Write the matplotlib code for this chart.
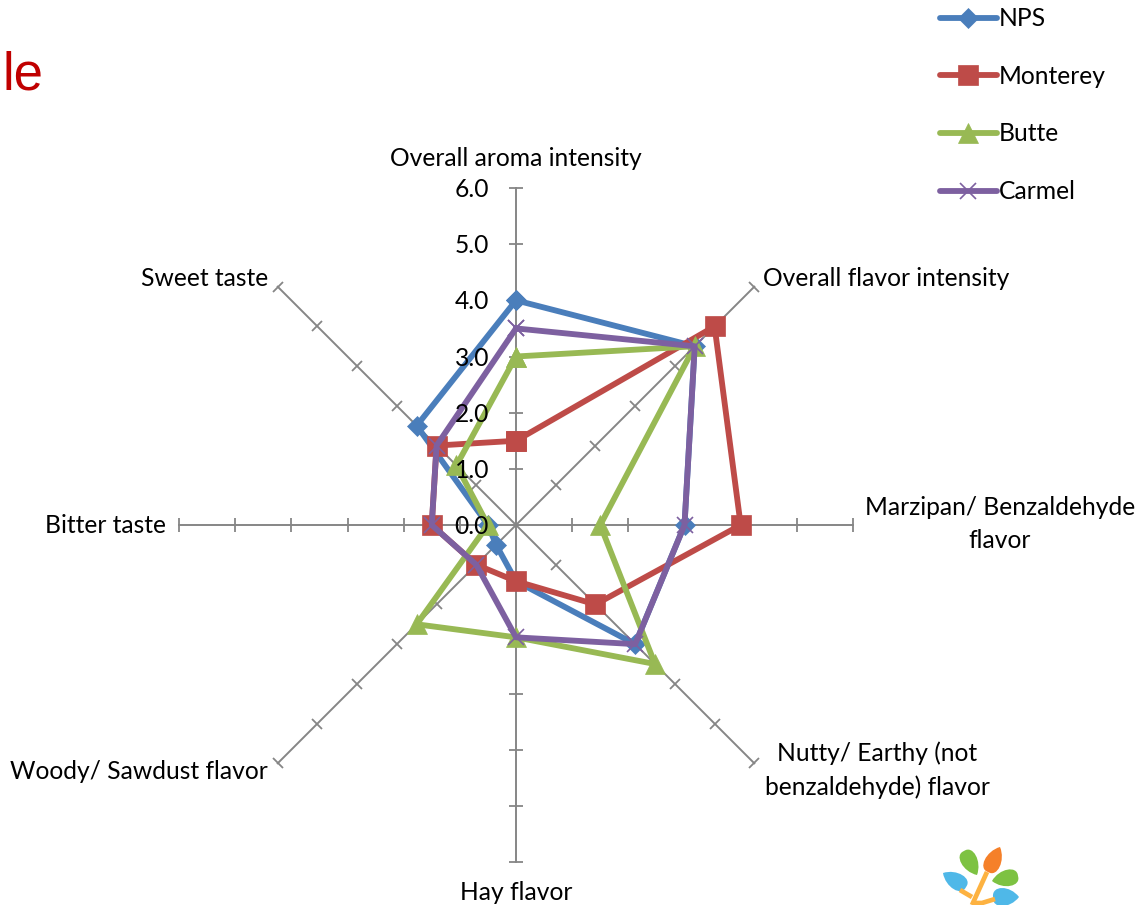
import numpy as np
import matplotlib
matplotlib.use("Agg")
from matplotlib import pyplot as plt
from matplotlib.lines import Line2D
from matplotlib.markers import MarkerStyle
from matplotlib.patches import PathPatch
from matplotlib.path import Path
from matplotlib.transforms import Affine2D

# Data, clockwise from the top spoke
categories = ["Overall aroma intensity", "Overall flavor intensity",
              "Marzipan/ Benzaldehyde\nflavor", "Nutty/ Earthy (not\nbenzaldehyde) flavor",
              "Hay flavor", "Woody/ Sawdust flavor", "Bitter taste", "Sweet taste"]
nps = [4.0, 4.5, 3.0, 3.0, 1.0, 0.5, 0.5, 2.5]
monterey = [1.5, 5.0, 4.0, 2.0, 1.0, 1.0, 1.5, 2.0]
butte = [3.0, 4.5, 1.5, 3.5, 2.0, 2.5, 0.5, 1.5]
carmel = [3.5, 4.5, 3.0, 3.0, 2.0, 1.0, 1.5, 2.0]
r_ticks = [0.0, 1.0, 2.0, 3.0, 4.0, 5.0, 6.0]

# Label offsets from the spoke ends, in pixels
label_offsets = [(0, 30), (9, 8), (147, 1), (123, -7), (0, -30), (-10, -8), (-13, 0), (-9, 8)]
label_aligns = ["center", "left", "center", "center", "center", "right", "right", "right"]

plt.rcParams["font.family"] = ["Lato", "DejaVu Sans"]
FS = 17.7
W, H = 1140, 905
fig = plt.figure(figsize=(W / 100, H / 100), dpi=100)

# Chart centre is at pixel (516, 525), radius 337
ax = fig.add_axes([(516 - 337) / W, (H - 525 - 337) / H, 674 / W, 674 / H], projection="polar")
ax.set_theta_zero_location("N")
ax.set_theta_direction(-1)
ax.set_ylim(0, 6)
ax.axis("off")

thetas = np.arange(len(categories)) * 2 * np.pi / len(categories)

# Spokes with tick marks across them
axis_col = "#868686"
for th in thetas:
    ax.plot([th, th], [0, 6], color=axis_col, lw=1.4, zorder=1, clip_on=False)
    tick = MarkerStyle("_", transform=Affine2D().rotate(-th))
    ax.plot([th] * 6, r_ticks[1:], ls="none", marker=tick, ms=9.5, mew=1.3, color=axis_col,
            zorder=1, clip_on=False)

# Series
series = [("NPS", nps, "#4A7EBB", "D", 10.5),
          ("Monterey", monterey, "#BE4B48", "s", 14),
          ("Butte", butte, "#98B954", "^", 14.5),
          ("Carmel", carmel, "#7D60A0", "x", 11.5)]
handles = []
for name, vals, col, mk, ms in series:
    mew = 1.2 if mk == "x" else 0.5
    ax.plot(list(thetas) + [thetas[0]], vals + [vals[0]], color=col, lw=4.2, marker=mk, ms=ms,
            mew=mew, mec=col, mfc=col, zorder=2, clip_on=False, solid_joinstyle="round")
    handles.append(Line2D([], [], color=col, lw=4.2, marker=mk, ms=ms, mew=mew, mec=col, mfc=col,
                          solid_capstyle="round", label=name))

# Radial labels
for r in r_ticks:
    ax.annotate(f"{r:.1f}", xy=(0, r), xytext=(-27, -1.5), textcoords="offset pixels",
                ha="right", va="center", fontsize=FS, color="black", zorder=3)

# Category labels
for th, lab, off, al in zip(thetas, categories, label_offsets, label_aligns):
    ax.annotate(lab, xy=(th, 6), xytext=off, textcoords="offset pixels", ha=al, va="center",
                multialignment="center", fontsize=FS, color="black", linespacing=1.5,
                annotation_clip=False)

fig.legend(handles=handles, loc="upper left", bbox_to_anchor=(918 / W, 1 + 15 / H), frameon=False,
           fontsize=FS, handlelength=2.3, handletextpad=0.1, labelspacing=1.41, borderpad=0.4,
           numpoints=1)

# Clipped title fragment
fig.text(3 / W, 1 - 90 / H, "le", color="#C00000", fontsize=38, family="Liberation Sans",
         ha="left", va="baseline")

# Little tree logo, drawn in pixel coordinates
logo = fig.add_axes([0, 0, 1, 1], facecolor="none")
logo.set_xlim(0, W)
logo.set_ylim(H, 0)
logo.axis("off")
for xs, ys in [([987, 972], [872, 905]), ([960, 972], [890, 897]), ([972, 982, 995], [903, 903, 899])]:
    logo.plot(xs, ys, color="#FDB241", lw=3.4, solid_capstyle="butt")


def leaf(tip, base, width, col):
    tip = np.array(tip, float)
    base = np.array(base, float)
    d = base - tip
    n = np.array([-d[1], d[0]]) / np.hypot(*d) * width
    pts = [tip, tip + 0.35 * d + n, tip + 1.05 * d + n, base,
           tip + 1.05 * d - n, tip + 0.35 * d - n, tip]
    codes = [Path.MOVETO] + [Path.CURVE4] * 6
    logo.add_patch(PathPatch(Path(pts, codes), fc=col, ec="none"))


leaf((977, 875), (964, 851), 11, "#7DC242")
leaf((1000, 847), (988, 872), 11, "#F58029")
leaf((992, 881), (1018, 876), 11, "#7DC242")
leaf((943, 873), (966, 887), 11, "#4FB8E8")
leaf((1019, 897), (993, 897), 12, "#4FB8E8")

fig.savefig("out.png", dpi=100)
